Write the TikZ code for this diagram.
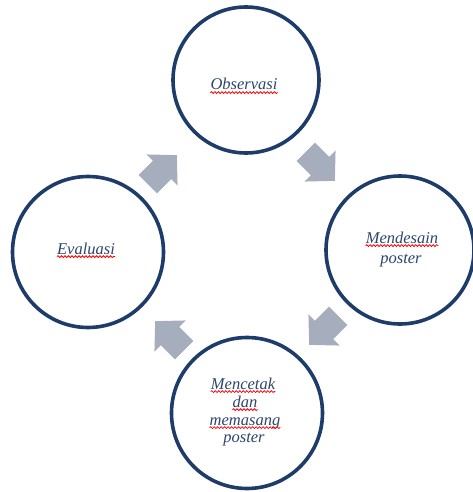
\documentclass[tikz,border=0pt]{standalone}
\usepackage{fontspec}
\setmainfont{Liberation Serif}
\usetikzlibrary{decorations.pathmorphing}
\definecolor{ringcol}{RGB}{30,60,105}
\definecolor{txtcol}{RGB}{45,70,110}
\definecolor{arrcol}{RGB}{166,174,190}
\tikzset{
  ring/.style={circle,draw=ringcol,line width=3.6pt,fill=white,minimum size=#1,inner sep=0pt},
  lbl/.style={anchor=base,inner sep=0pt,text=txtcol,font=\fontsize{16.5}{18}\selectfont\itshape},
  squig/.style={draw=red,line width=0.8pt,decorate,decoration={snake,segment length=3.5pt,amplitude=0.9pt}},
  blockarrow/.style={fill=arrcol}
}
\newcommand{\squiggle}[1]{\path[squig] ([yshift=-2.6pt]#1.base west) -- ([yshift=-2.6pt]#1.base east);}
\begin{document}
\begin{tikzpicture}[x=1pt,y=-1pt]
\useasboundingbox (0,0) rectangle (472,492);
% block arrows
\foreach \cx/\cy/\ang in {320/166/-45, 162/170/45, 170/336/135, 324/330/-135}{
  \begin{scope}[shift={(\cx,\cy)},rotate=\ang]
    \fill[blockarrow] (-20,-13) -- (0,-13) -- (0,-22) -- (21,0) -- (0,22) -- (0,13) -- (-20,13) -- cycle;
  \end{scope}
}
% circles
\node[ring=146pt] (obs) at (246,80) {};
\node[ring=148pt] (des) at (400,250) {};
\node[ring=151pt] (cet) at (247,413) {};
\node[ring=151pt] (eva) at (88,252) {};
% labels
\node[lbl] (tobs) at (244,90) {Observasi};
\node[lbl] (tdes1) at (402,243) {Mendesain};
\node[lbl] (tdes2) at (401,263) {poster};
\node[lbl] (teva) at (86,254) {Evaluasi};
\node[lbl] (tcet1) at (243,389) {Mencetak};
\node[lbl] (tcet2) at (245,407) {dan};
\node[lbl] (tcet3) at (245,425) {memasang};
\node[lbl] (tcet4) at (244,442) {poster};
% spelling squiggles
\squiggle{tobs}
\squiggle{tdes1}
\squiggle{teva}
\squiggle{tcet1}
\squiggle{tcet2}
\squiggle{tcet3}
\end{tikzpicture}
\end{document}
